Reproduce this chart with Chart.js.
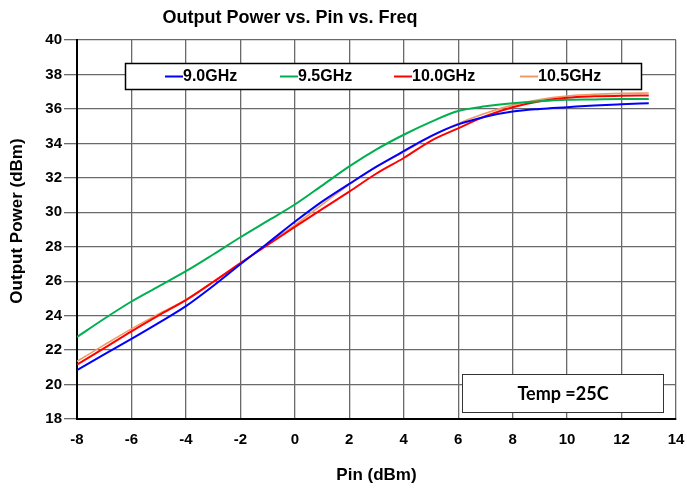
<!DOCTYPE html>
<html>
<head>
<meta charset="utf-8">
<script src="https://cdn.jsdelivr.net/npm/chart.js@4.4.1/dist/chart.umd.min.js"></script>
<style>
  html, body { margin: 0; padding: 0; background: #fff; }
  #wrap { width: 687px; height: 495px; }
</style>
</head>
<body>
<div id="wrap"><canvas id="c" width="687" height="495"></canvas></div>
<script>
// Input power sweep (dBm)
const pinDbm = [-8, -7, -6, -5, -4, -3, -2, -1, 0, 1, 2, 3, 4, 5, 6, 7, 8, 9, 10, 11, 12, 13];

// Output power (dBm) per frequency
const pout9p0 = [20.83, 21.75, 22.65, 23.58, 24.55, 25.72, 26.98, 28.2, 29.45, 30.62, 31.65, 32.65, 33.55, 34.42, 35.1, 35.55, 35.85, 36.0, 36.1, 36.2, 36.27, 36.33];
const pout9p5 = [22.76, 23.82, 24.82, 25.7, 26.58, 27.55, 28.55, 29.5, 30.45, 31.55, 32.66, 33.65, 34.5, 35.25, 35.88, 36.15, 36.33, 36.45, 36.53, 36.55, 36.57, 36.57];
const pout10p0 = [21.16, 22.12, 23.09, 24.02, 24.9, 25.95, 27.05, 28.1, 29.15, 30.18, 31.2, 32.25, 33.15, 34.15, 34.87, 35.58, 36.1, 36.45, 36.65, 36.73, 36.77, 36.78];
const pout10p5 = [21.35, 22.3, 23.23, 24.1, 24.92, 25.97, 27.02, 28.15, 29.25, 30.45, 31.6, 32.65, 33.5, 34.4, 35.15, 35.75, 36.22, 36.55, 36.75, 36.85, 36.9, 36.92];

const seriesNames = ['9.0GHz', '9.5GHz', '10.0GHz', '10.5GHz'];
const seriesColors = ['#0000FF', '#00B050', '#FF0000', '#EE9A66'];
const seriesWidths = [2, 2, 2, 1.6];

const xTickValues = [-8, -6, -4, -2, 0, 2, 4, 6, 8, 10, 12, 14];
const yTickValues = [18, 20, 22, 24, 26, 28, 30, 32, 34, 36, 38, 40];

const chartTitle = 'Output Power vs. Pin vs. Freq';
const xTitle = 'Pin (dBm)';
const yTitle = 'Output Power (dBm)';
const noteText = 'Temp =25C';

const allSeries = [pout9p0, pout9p5, pout10p0, pout10p5];
const datasets = allSeries.map((vals, i) => ({
  label: seriesNames[i],
  data: pinDbm.map((p, k) => ({ x: p, y: vals[k] })),
  borderColor: seriesColors[i],
  backgroundColor: seriesColors[i],
  borderWidth: seriesWidths[i],
  pointRadius: 0,
  cubicInterpolationMode: 'monotone',
  fill: false
}));

const FONT = '"Liberation Sans", Arial, sans-serif';

// Title, vertical axis title, legend panel and temperature note
const overlay = {
  id: 'overlay',
  afterDraw(chart) {
    const ctx = chart.ctx;
    ctx.save();
    ctx.fillStyle = '#000';
    ctx.font = 'bold 18px ' + FONT;
    ctx.textAlign = 'center';
    ctx.textBaseline = 'middle';
    ctx.fillText(chartTitle, 290, 18);

    // vertical axis title
    ctx.save();
    ctx.translate(17, 221);
    ctx.rotate(-Math.PI / 2);
    ctx.font = 'bold 17px ' + FONT;
    ctx.fillText(yTitle, 0, 0);
    ctx.restore();

    // legend panel
    const lx = 125.5, ly = 63.5, lw = 516, lh = 26;
    ctx.fillStyle = '#fff';
    ctx.fillRect(lx, ly, lw, lh);
    ctx.strokeStyle = '#000';
    ctx.lineWidth = 1.5;
    ctx.strokeRect(lx, ly, lw, lh);
    const itemX = [165, 280, 394, 520];
    ctx.font = 'bold 16px ' + FONT;
    ctx.textAlign = 'left';
    ctx.textBaseline = 'middle';
    chart.data.datasets.forEach((ds, i) => {
      const x0 = itemX[i];
      const yMid = ly + lh / 2;
      ctx.strokeStyle = ds.borderColor;
      ctx.lineWidth = 2;
      ctx.beginPath();
      ctx.moveTo(x0, yMid);
      ctx.lineTo(x0 + 18, yMid);
      ctx.stroke();
      ctx.fillStyle = '#000';
      ctx.fillText(ds.label, x0 + 18, yMid + 0.5);
    });

    // temperature note
    const tx = 462.5, ty = 374.5, tw = 201, th = 38;
    ctx.fillStyle = '#fff';
    ctx.fillRect(tx, ty, tw, th);
    ctx.strokeStyle = '#333';
    ctx.lineWidth = 1;
    ctx.strokeRect(tx, ty, tw, th);
    ctx.fillStyle = '#000';
    ctx.font = 'bold 18px Lato, "Open Sans", sans-serif';
    ctx.textAlign = 'center';
    ctx.fillText(noteText, tx + tw / 2, ty + th / 2 + 1);
    ctx.restore();
  }
};

new Chart(document.getElementById('c'), {
  type: 'line',
  data: { datasets },
  options: {
    responsive: false,
    animation: false,
    events: [],
    layout: { padding: { top: 40, right: 11, bottom: 0, left: 0 } },
    plugins: {
      legend: { display: false },
      title: { display: false },
      tooltip: { enabled: false }
    },
    scales: {
      x: {
        type: 'linear',
        min: xTickValues[0], max: xTickValues[xTickValues.length - 1],
        afterFit(s) { s.height = 76; s.paddingLeft = 0; s.paddingRight = 0; },
        afterBuildTicks(s) { s.ticks = xTickValues.map(v => ({ value: v })); },
        ticks: {
          padding: 12,
          color: '#000',
          font: { family: FONT, size: 15, weight: 'bold' }
        },
        grid: { color: '#6a6a6a', lineWidth: 1.3, drawTicks: false },
        border: { display: true, color: '#000', width: 2 },
        title: {
          display: true, text: xTitle, color: '#000',
          padding: { top: 0, bottom: 9 },
          font: { family: FONT, size: 17, weight: 'bold' }
        }
      },
      y: {
        min: yTickValues[0], max: yTickValues[yTickValues.length - 1],
        afterFit(s) { s.width = 77; s.paddingTop = 0; s.paddingBottom = 0; },
        afterBuildTicks(s) { s.ticks = yTickValues.map(v => ({ value: v })); },
        ticks: {
          padding: 2,
          color: '#000',
          font: { family: FONT, size: 15, weight: 'bold' }
        },
        grid: { color: '#6a6a6a', lineWidth: 1.3, tickLength: 13 },
        border: { display: true, color: '#000', width: 2 }
      }
    }
  },
  plugins: [overlay]
});
</script>
</body>
</html>
